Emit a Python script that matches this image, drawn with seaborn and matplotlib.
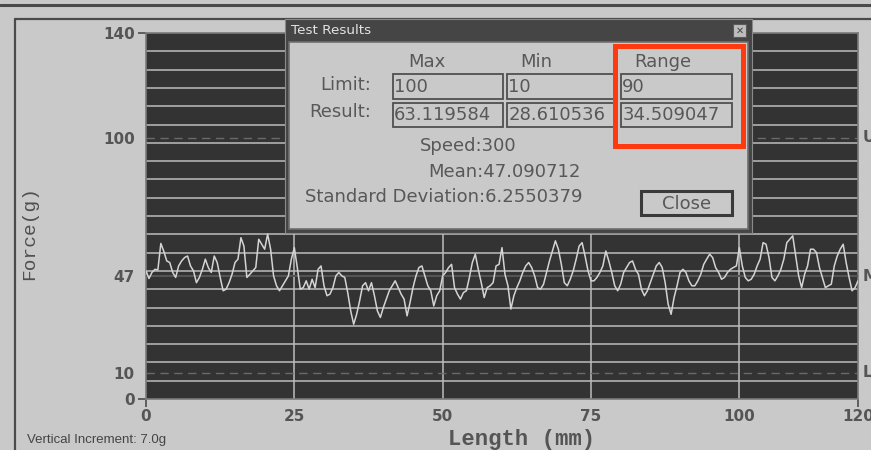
import numpy as np
import pandas as pd
import matplotlib
matplotlib.use("Agg")
import matplotlib.pyplot as plt
import seaborn as sns
from matplotlib.patches import Rectangle
from matplotlib.lines import Line2D
from matplotlib.ticker import FixedLocator

# ---------------- data ----------------
length_mm = np.arange(0, 120.25, 0.5)
force_g = [
    49.0, 46.1, 48.4, 49.6, 49.4, 59.5, 56.5, 52.8, 52.2, 48.4,
    46.5, 50.9, 52.8, 54.1, 54.7, 50.9, 49.0, 44.5, 46.5, 49.6,
    53.5, 50.3, 48.4, 54.7, 52.2, 46.5, 41.4, 42.0, 44.5, 47.7,
    52.2, 53.5, 61.7, 58.5, 46.5, 47.7, 49.0, 50.3, 61.1, 59.2,
    57.3, 63.1, 57.3, 47.1, 43.3, 41.4, 43.3, 45.2, 47.1, 53.5,
    57.9, 50.3, 42.0, 42.6, 45.2, 42.0, 45.8, 42.6, 49.6, 50.9,
    43.3, 39.5, 40.1, 42.6, 47.1, 48.4, 47.1, 46.5, 40.7, 33.7,
    28.6, 32.4, 37.5, 43.3, 44.5, 41.4, 44.5, 39.5, 33.7, 31.2,
    35.0, 38.2, 41.4, 43.3, 45.2, 42.6, 40.1, 38.2, 31.8, 36.9,
    42.6, 47.1, 50.3, 50.9, 47.1, 43.3, 41.4, 35.6, 39.5, 41.4,
    47.1, 48.4, 50.3, 51.5, 42.6, 40.1, 38.2, 40.7, 41.4, 46.5,
    52.2, 55.4, 49.6, 44.5, 38.8, 42.6, 43.3, 44.5, 50.9, 51.5,
    57.9, 47.7, 43.3, 34.4, 39.5, 42.6, 45.2, 48.4, 50.9, 52.2,
    50.3, 47.1, 42.6, 42.0, 43.9, 48.4, 52.8, 56.6, 60.5, 57.3,
    51.5, 44.5, 43.3, 45.8, 49.0, 53.5, 58.5, 59.8, 54.7, 49.0,
    45.2, 45.2, 46.5, 48.4, 50.9, 56.6, 52.8, 48.4, 43.3, 41.4,
    43.9, 48.4, 50.3, 52.2, 52.8, 49.6, 47.7, 42.0, 39.5, 41.4,
    44.5, 47.7, 50.9, 52.2, 50.3, 44.5, 36.3, 32.4, 38.8, 43.3,
    48.4, 49.6, 48.4, 45.2, 43.3, 43.3, 45.2, 47.7, 51.5, 53.5,
    55.4, 54.1, 50.3, 48.4, 45.8, 46.5, 48.4, 49.6, 50.3, 50.9,
    57.9, 50.9, 46.5, 45.2, 45.8, 47.7, 50.9, 53.5, 59.8, 59.2,
    54.1, 46.5, 45.2, 47.1, 49.6, 53.5, 59.8, 61.1, 62.4, 54.7,
    47.1, 42.6, 47.7, 50.9, 57.3, 57.3, 56.0, 50.3, 46.5, 42.6,
    43.3, 43.9, 50.9, 54.7, 57.3, 59.2, 52.2, 46.5, 41.4, 42.6,
    45.2,
]
y_ticks = [0, 10, 47, 100, 140]
y_tick_labels = ["0", "10", "47", "100", "140"]
x_ticks = [0, 25, 50, 75, 100, 120]
x_tick_labels = ["0", "25", "50", "75", "100", "120"]
x_grid = [25, 50, 75, 100]
vertical_increment = 7.0
limit_upper = 100
limit_lower = 10
mean_value = 47.090712
side_marks = [("U", 100), ("M", 47), ("L", 10)]

stat_headers = ["Max", "Min", "Range"]
limit_values = ["100", "10", "90"]
result_values = ["63.119584", "28.610536", "34.509047"]
speed_text = "Speed:300"
mean_text = "Mean:47.090712"
std_text = "Standard Deviation:6.2550379"

df = pd.DataFrame({"length_mm": length_mm, "force_g": force_g})

# ---------------- figure ----------------
W, H = 871, 450
sns.set_style("dark")
plt.rcParams["font.family"] = ["DejaVu Sans"]
BG = "#c9c9c9"
fig = plt.figure(figsize=(W / 100, H / 100), dpi=100, facecolor=BG)

def fx(x):
    return x / W

def fy(y):
    return 1 - y / H

ax = fig.add_axes([fx(146), fy(399), (858 - 146) / W, (399 - 33) / H])
ax.set_facecolor("#333333")

sns.lineplot(data=df, x="length_mm", y="force_g", ax=ax, color="#d4d4d4",
             linewidth=1.1, estimator=None, zorder=5)

ax.set_xlim(0, 120)
ax.set_ylim(0, 140)

# grid lines
gcol = "#bdbdbd"
yv = vertical_increment
while yv < 140 - 1e-6:
    ax.axhline(yv, color=gcol, lw=1.1, zorder=2)
    yv += vertical_increment
for xv in x_grid:
    ax.axvline(xv, color=gcol, lw=1.1, zorder=2)
ax.axhline(mean_value, color="#555555", lw=1.4, zorder=3)
for lv in (limit_upper, limit_lower):
    ax.axhline(lv, color="#6a6a6a", lw=1.0, ls=(0, (6, 4)), zorder=3)

ax.set_xticks(x_ticks)
ax.set_xticklabels(x_tick_labels)
ax.set_yticks(y_ticks)
ax.set_yticklabels(y_tick_labels)
ax.xaxis.remove_overlapping_locs = False
ax.yaxis.remove_overlapping_locs = False
ax.xaxis.set_minor_locator(FixedLocator([0, 120]))
ax.yaxis.set_minor_locator(FixedLocator([0, 140]))
ax.tick_params(which="both", left=True, bottom=True)
ax.tick_params(which="major", length=0, colors="#555555")
ax.tick_params(axis="y", which="major", pad=8, labelsize=11)
ax.tick_params(axis="x", which="major", pad=7, labelsize=11)
ax.tick_params(which="minor", length=6, width=1.3, color="#555555")
for lab in ax.get_xticklabels() + ax.get_yticklabels():
    lab.set_fontweight("bold")
ax.set_xlabel("")
ax.set_ylabel("")
for s in ax.spines.values():
    s.set_visible(True)
    s.set_color("#7a7a7a")
    s.set_linewidth(1.2)

for letter, val in side_marks:
    ax.text(1.007, val, letter, transform=ax.get_yaxis_transform(), ha="left",
            va="center", fontsize=11, fontweight="bold", color="#555555",
            clip_on=False)

# axis labels
fig.text(fx(30), fy(233), "Force(g)", rotation=90, ha="center", va="center",
         family="Liberation Mono", fontsize=14, color="#505050")
fig.text(fx(522), fy(440), "Length (mm)", ha="center", va="center",
         family="Liberation Mono", fontweight="bold", fontsize=16, color="#555555")
fig.text(fx(27), fy(440), "Vertical Increment: 7.0g", ha="left", va="center",
         family="Liberation Sans", fontsize=9.5, color="#444444")

# window frame
fig.add_artist(Line2D([0, 1], [fy(4.5), fy(4.5)], transform=fig.transFigure,
                      color="#4a4a4a", lw=2.2))
fig.add_artist(Line2D([fx(15), 1], [fy(18.5), fy(18.5)], transform=fig.transFigure,
                      color="#4a4a4a", lw=1.6))
fig.add_artist(Line2D([fx(15), fx(15)], [fy(18.5), 0], transform=fig.transFigure,
                      color="#4a4a4a", lw=1.6))

# ---------------- dialog ----------------
def rect(x0, y0, x1, y1, z=20, **kw):
    fig.add_artist(Rectangle((fx(x0), fy(y1)), (x1 - x0) / W, (y1 - y0) / H,
                             transform=fig.transFigure, zorder=z, **kw))

def txt(x, y, s, z=22, **kw):
    base = dict(fontsize=13, color="#585858", va="center", zorder=z)
    base.update(kw)
    fig.text(fx(x), fy(y), s, **base)

rect(285, 19, 752, 233, fc="#454545", ec="#8a8a8a", lw=0.8)
rect(289, 42, 748, 229, fc=BG, ec="#6e6e6e", lw=1.2, z=21)
txt(291, 30.5, "Test Results", fontsize=9.7, color="#e2e2e2", ha="left")
rect(733, 24, 746, 37, fc="#bdbdbd", ec="#5a5a5a", lw=0.8, z=21)
txt(739.5, 30.5, "\u2715", fontsize=7, color="#444444", ha="center", fontweight="bold")

col_x = [(392.7, 503.3), (506.7, 615.7), (620.7, 732.0)]
header_cx = [426.7, 536.0, 663.0]
for (x0, x1), cx, h, lv, rv in zip(col_x, header_cx, stat_headers, limit_values, result_values):
    txt(cx, 62.3, h, ha="center")
    rect(x0, 74.3, x1, 99.0, fc=BG, ec="#505050", lw=1.3, z=21)
    rect(x0, 102.7, x1, 127.3, fc=BG, ec="#505050", lw=1.3, z=21)
    txt(x0 + 1.5, 86.5, lv, ha="left")
    txt(x0 + 1.5, 114.5, rv, ha="left")
txt(371, 84.5, "Limit:", ha="right")
txt(371, 111.7, "Result:", ha="right")
txt(420, 145.7, speed_text, ha="left")
txt(428, 171.7, mean_text, ha="left")
txt(305, 196.7, std_text, ha="left")
rect(641, 191, 732, 215, fc=BG, ec="#3a3a3a", lw=2.2, z=21)
txt(686.5, 203.5, "Close", ha="center")
rect(614.8, 45.8, 743.2, 145.8, fc="none", ec="#ff3a10", lw=3.6, z=23)

fig.savefig("out.png", dpi=100, facecolor=BG)
